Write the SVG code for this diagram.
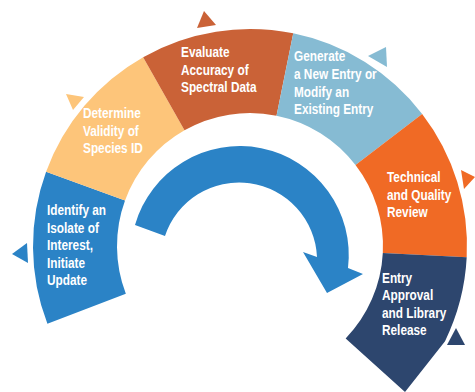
<svg xmlns="http://www.w3.org/2000/svg" width="475" height="392" viewBox="0 0 475 392">
<style>
.lbl{font-family:"Liberation Sans",Arial,sans-serif;font-weight:bold;font-size:14.5px;fill:#ffffff}
.blue{fill:#2B83C6}
.yellow{fill:#FDC57A}
.brown{fill:#CA6237}
.lblue{fill:#86BBD3}
.orange{fill:#F06A25}
.dblue{fill:#2D466E}
</style>
<rect width="475" height="392" fill="#ffffff"/>
<g id="connectors">
<path class="blue" d="M135,225 A109 109 0 0 1 348,268 L363,274 L327,293 L303,252 L317,257 A78 78 0 0 0 165,236 Z"/>
</g>
<g id="node-identify">
<path class="blue" d="M47.41,323.77 A217 217 0 0 1 46.09,171.78 L125.02,200.51 A133 133 0 0 0 125.83,293.66 Z"/>
<polygon class="blue" points="12,254 27,243 28,263"/>
<text class="lbl" transform="translate(47,215) scale(0.815,1)">Identify an</text>
<text class="lbl" transform="translate(47,232.5) scale(0.815,1)">Isolate of</text>
<text class="lbl" transform="translate(47,250) scale(0.815,1)">Interest,</text>
<text class="lbl" transform="translate(47,267.5) scale(0.815,1)">Initiate</text>
<text class="lbl" transform="translate(47,285) scale(0.815,1)">Update</text>
</g>
<g id="node-determine">
<path class="yellow" d="M46.09,171.78 A217 217 0 0 1 143.14,57.13 L184.51,130.24 A133 133 0 0 0 125.02,200.51 Z"/>
<polygon class="yellow" points="66,94 84,97 73,110"/>
<text class="lbl" transform="translate(83,118) scale(0.815,1)">Determine</text>
<text class="lbl" transform="translate(83,135.5) scale(0.815,1)">Validity of</text>
<text class="lbl" transform="translate(83,153) scale(0.815,1)">Species ID</text>
</g>
<g id="node-evaluate">
<path class="brown" d="M143.14,57.13 A217 217 0 0 1 293.26,33.36 L276.52,115.67 A133 133 0 0 0 184.51,130.24 Z"/>
<polygon class="brown" points="204,11 197,28 216,25"/>
<text class="lbl" transform="translate(181,57) scale(0.815,1)">Evaluate</text>
<text class="lbl" transform="translate(181,74.5) scale(0.815,1)">Accuracy of</text>
<text class="lbl" transform="translate(181,92) scale(0.815,1)">Spectral Data</text>
</g>
<g id="node-generate">
<path class="lblue" d="M293.26,33.36 A217 217 0 0 1 422.16,113.9 L355.52,165.03 A133 133 0 0 0 276.52,115.67 Z"/>
<polygon class="lblue" points="368,56 386,47 387,67"/>
<text class="lbl" transform="translate(294,61) scale(0.815,1)">Generate</text>
<text class="lbl" transform="translate(294,78.5) scale(0.815,1)">a New Entry or</text>
<text class="lbl" transform="translate(294,96.5) scale(0.815,1)">Modify an</text>
<text class="lbl" transform="translate(294,114) scale(0.815,1)">Existing Entry</text>
</g>
<g id="node-review">
<path class="orange" d="M422.16,113.9 A217 217 0 0 1 466.7,257.36 L382.82,252.96 A133 133 0 0 0 355.52,165.03 Z"/>
<polygon class="orange" points="461,170 464,189 475,177"/>
<text class="lbl" transform="translate(387,182) scale(0.815,1)">Technical</text>
<text class="lbl" transform="translate(387,199.5) scale(0.815,1)">and Quality</text>
<text class="lbl" transform="translate(387,217) scale(0.815,1)">Review</text>
</g>
<g id="node-release">
<path class="dblue" d="M466.7,257.36 A217 217 0 0 1 445.04,341.13 L405,392 L345.67,338.39 A133 133 0 0 0 382.82,252.96 Z"/>
<polygon class="dblue" points="456,328 447,345 465,345"/>
<text class="lbl" transform="translate(382,282.5) scale(0.815,1)">Entry</text>
<text class="lbl" transform="translate(382,300) scale(0.815,1)">Approval</text>
<text class="lbl" transform="translate(382,317.5) scale(0.815,1)">and Library</text>
<text class="lbl" transform="translate(382,335) scale(0.815,1)">Release</text>
</g>
</svg>
